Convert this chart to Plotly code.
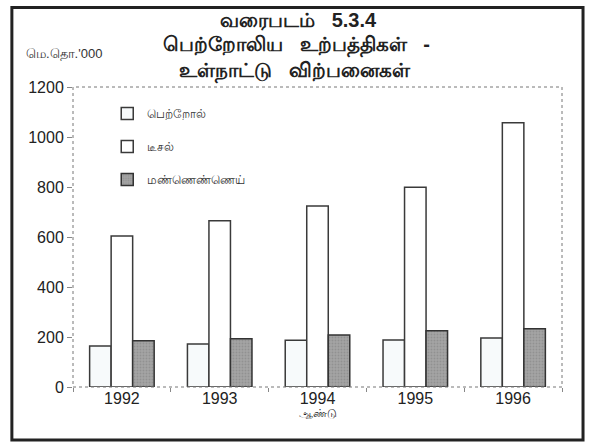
import plotly.graph_objects as go

years = ["1992", "1993", "1994", "1995", "1996"]
petrol = [164, 172, 187, 188, 196]
diesel = [604, 665, 724, 799, 1057]
kerosene = [185, 193, 208, 225, 233]
names = ["பெற்றோல்", "டீசல்", "மண்ணெண்ணெய்"]
y_ticks = [0, 200, 400, 600, 800, 1000, 1200]

fig = go.Figure()
fig.add_trace(go.Bar(x=years, y=petrol, name=names[0], legendgroup="a",
                     marker=dict(color="#f7fafb", line=dict(color="#3a3a3a", width=1.5))))
fig.add_trace(go.Bar(x=years, y=diesel, name=names[1], legendgroup="b",
                     marker=dict(color="#ffffff", line=dict(color="#3a3a3a", width=1.5))))
fig.add_trace(go.Bar(x=years, y=kerosene, name=names[2], legendgroup="c",
                     marker=dict(color="#9c9c9c", line=dict(color="#333333", width=1.5),
                                 pattern=dict(shape=".", size=3, solidity=0.3,
                                              fgcolor="#7e7e7e", bgcolor="#a4a4a4"))))

fig.update_layout(
    width=593, height=444,
    margin=dict(l=73, r=31, t=87, b=57),
    paper_bgcolor="white", plot_bgcolor="white",
    barmode="group", bargap=0.34, bargroupgap=0,
    font=dict(family="Liberation Sans, Arial, sans-serif", color="#222"),
    showlegend=True,
    legend=dict(x=0.07, y=0.96, xanchor="left", yanchor="top",
                bgcolor="rgba(0,0,0,0)", font=dict(size=12, color="#333"),
                tracegroupgap=14, itemwidth=30),
    xaxis=dict(type="category", showline=False, ticks="outside", tickson="boundaries",
               ticklen=4, tickcolor="#888", tickfont=dict(size=16, color="#222"),
               title=dict(text="ஆண்டு", font=dict(size=11), standoff=2)),
    yaxis=dict(range=[0, 1200], tickvals=y_ticks, showgrid=False, zeroline=False,
               showline=False, ticks="outside", ticklen=5, tickcolor="#888",
               tickfont=dict(size=16, color="#222")),
    shapes=[
        dict(type="rect", xref="paper", yref="paper", x0=0, x1=1, y0=0, y1=1,
             line=dict(color="#777", width=1, dash="dot")),
        dict(type="rect", xref="paper", yref="paper", x0=-0.125, x1=1.043,
             y0=-0.177, y1=1.265, line=dict(color="#222", width=3)),
    ],
    annotations=[
        dict(text="<b>வரைபடம்   5.3.4</b>", x=0.462, y=1.223, xref="paper", yref="paper",
             yanchor="middle", showarrow=False, font=dict(size=20, color="#222")),
        dict(text="<b>பெற்றோலிய   உற்பத்திகள்   -</b>", x=0.458, y=1.137, xref="paper", yref="paper",
             yanchor="middle", showarrow=False, font=dict(size=20, color="#222")),
        dict(text="<b>உள்நாட்டு   விற்பனைகள்</b>", x=0.454, y=1.053, xref="paper", yref="paper",
             yanchor="middle", showarrow=False, font=dict(size=20, color="#222")),
        dict(text="மெ.தொ.'000", x=-0.1, y=1.113, xref="paper", yref="paper",
             xanchor="left", yanchor="middle", showarrow=False, font=dict(size=13, color="#333")),
    ],
)

fig.write_html("out.html", config={"displayModeBar": False},
               post_script="document.body.style.margin='0px';")
